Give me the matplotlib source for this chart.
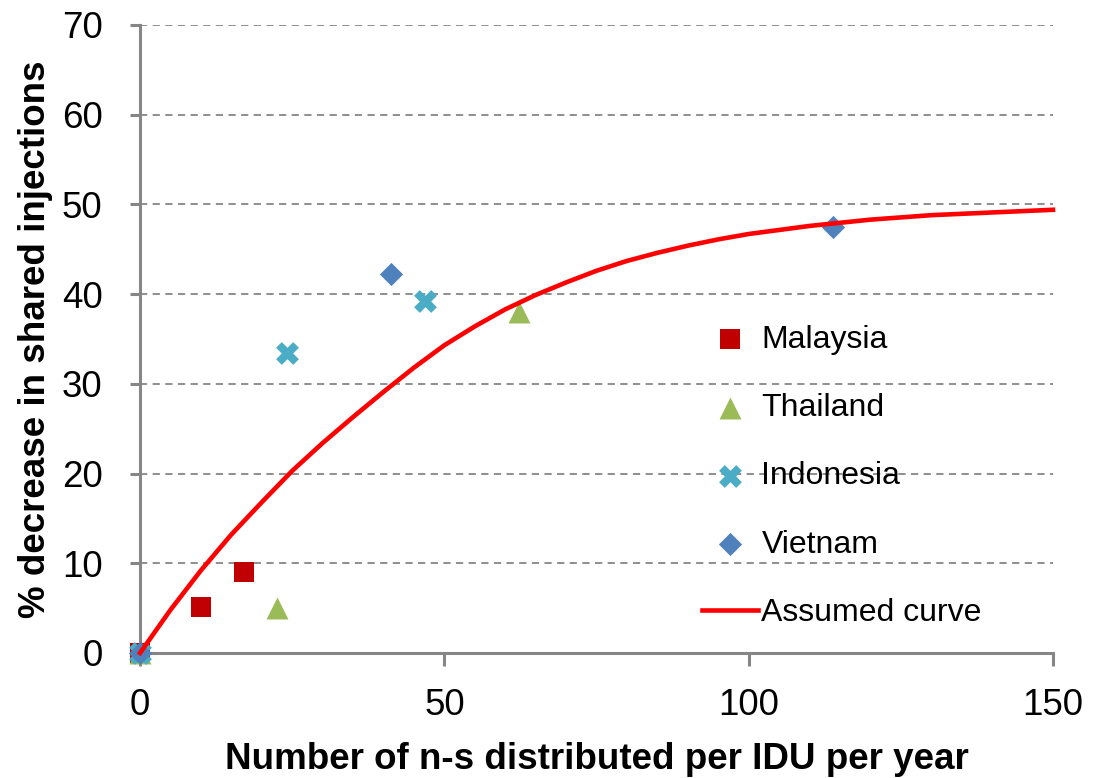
import matplotlib
matplotlib.use("Agg")
import matplotlib.pyplot as plt

plt.rcParams['font.family'] = ['Liberation Sans', 'DejaVu Sans']

# scatter data
malaysia_x = [0, 10.0, 17.1]
malaysia_y = [0, 5.1, 9.0]
thailand_x = [0, 22.5, 62.3]
thailand_y = [0, 5.0, 38.0]
indonesia_x = [0, 24.1, 46.8]
indonesia_y = [0, 33.4, 39.2]
vietnam_x = [0, 41.2, 113.8]
vietnam_y = [0, 42.2, 47.5]

# assumed curve, points
curve_x = [0, 5, 10, 15, 20, 25, 30, 35, 40, 45, 50, 55, 60, 65, 70, 75, 80,
           85, 90, 95, 100, 110, 120, 130, 140, 150]
curve_y = [0, 4.8, 9.2, 13.2, 16.8, 20.3, 23.4, 26.3, 29.1, 31.8, 34.3, 36.4,
           38.3, 39.9, 41.3, 42.6, 43.7, 44.6, 45.4, 46.1, 46.7, 47.6, 48.3,
           48.8, 49.1, 49.4]

grey = "#868686"

fig = plt.figure(figsize=(10.94, 7.78), dpi=100)
ax = fig.add_axes([0.128, 0.1607, 0.9625 - 0.128, 0.9679 - 0.1607])

ax.scatter(malaysia_x, malaysia_y, marker='s', s=220, color='#C00000',
           label='Malaysia', zorder=3, clip_on=False, linewidths=0)
ax.scatter(thailand_x, thailand_y, marker='^', s=250, color='#9BBB59',
           label='Thailand', zorder=3, clip_on=False, linewidths=0)
ax.scatter(indonesia_x, indonesia_y, marker='X', s=270, color='#4BACC6',
           label='Indonesia', zorder=3, clip_on=False, linewidths=0)
ax.scatter(vietnam_x, vietnam_y, marker='D', s=140, color='#4F81BD',
           label='Vietnam', zorder=3, clip_on=False, linewidths=0)
ax.plot(curve_x, curve_y, color='#FF0000', lw=3.3, label='Assumed curve',
        zorder=4, clip_on=False)

ax.set_xlim(0, 150)
ax.set_ylim(0, 70)
ax.set_xticks([0, 50, 100, 150])
ax.set_yticks(range(0, 80, 10))

for s in ['top', 'right']:
    ax.spines[s].set_visible(False)
for s in ['left', 'bottom']:
    ax.spines[s].set_color(grey)
    ax.spines[s].set_linewidth(2.2)

ax.yaxis.grid(True, linestyle=(0, (4, 3)), color=grey, lw=1.3)
ax.set_axisbelow(True)

ax.tick_params(axis='y', direction='out', length=7, width=2.2, color=grey,
               labelsize=26.5, pad=20)
ax.tick_params(axis='x', direction='out', length=9, width=2.2, color=grey,
               labelsize=26.5, pad=16)

ax.set_xlabel('Number of n-s distributed per IDU per year', fontsize=26.5,
              fontweight='bold', labelpad=14)
ax.set_ylabel('% decrease in shared injections', fontsize=26.5,
              fontweight='bold', labelpad=6)

ax.legend(loc='upper left', bbox_to_anchor=(0.602, 0.543), frameon=False,
          fontsize=23, labelspacing=1.2, handlelength=1.75, handletextpad=0.1,
          scatterpoints=1, borderaxespad=0)

fig.savefig('out.png', dpi=100)
